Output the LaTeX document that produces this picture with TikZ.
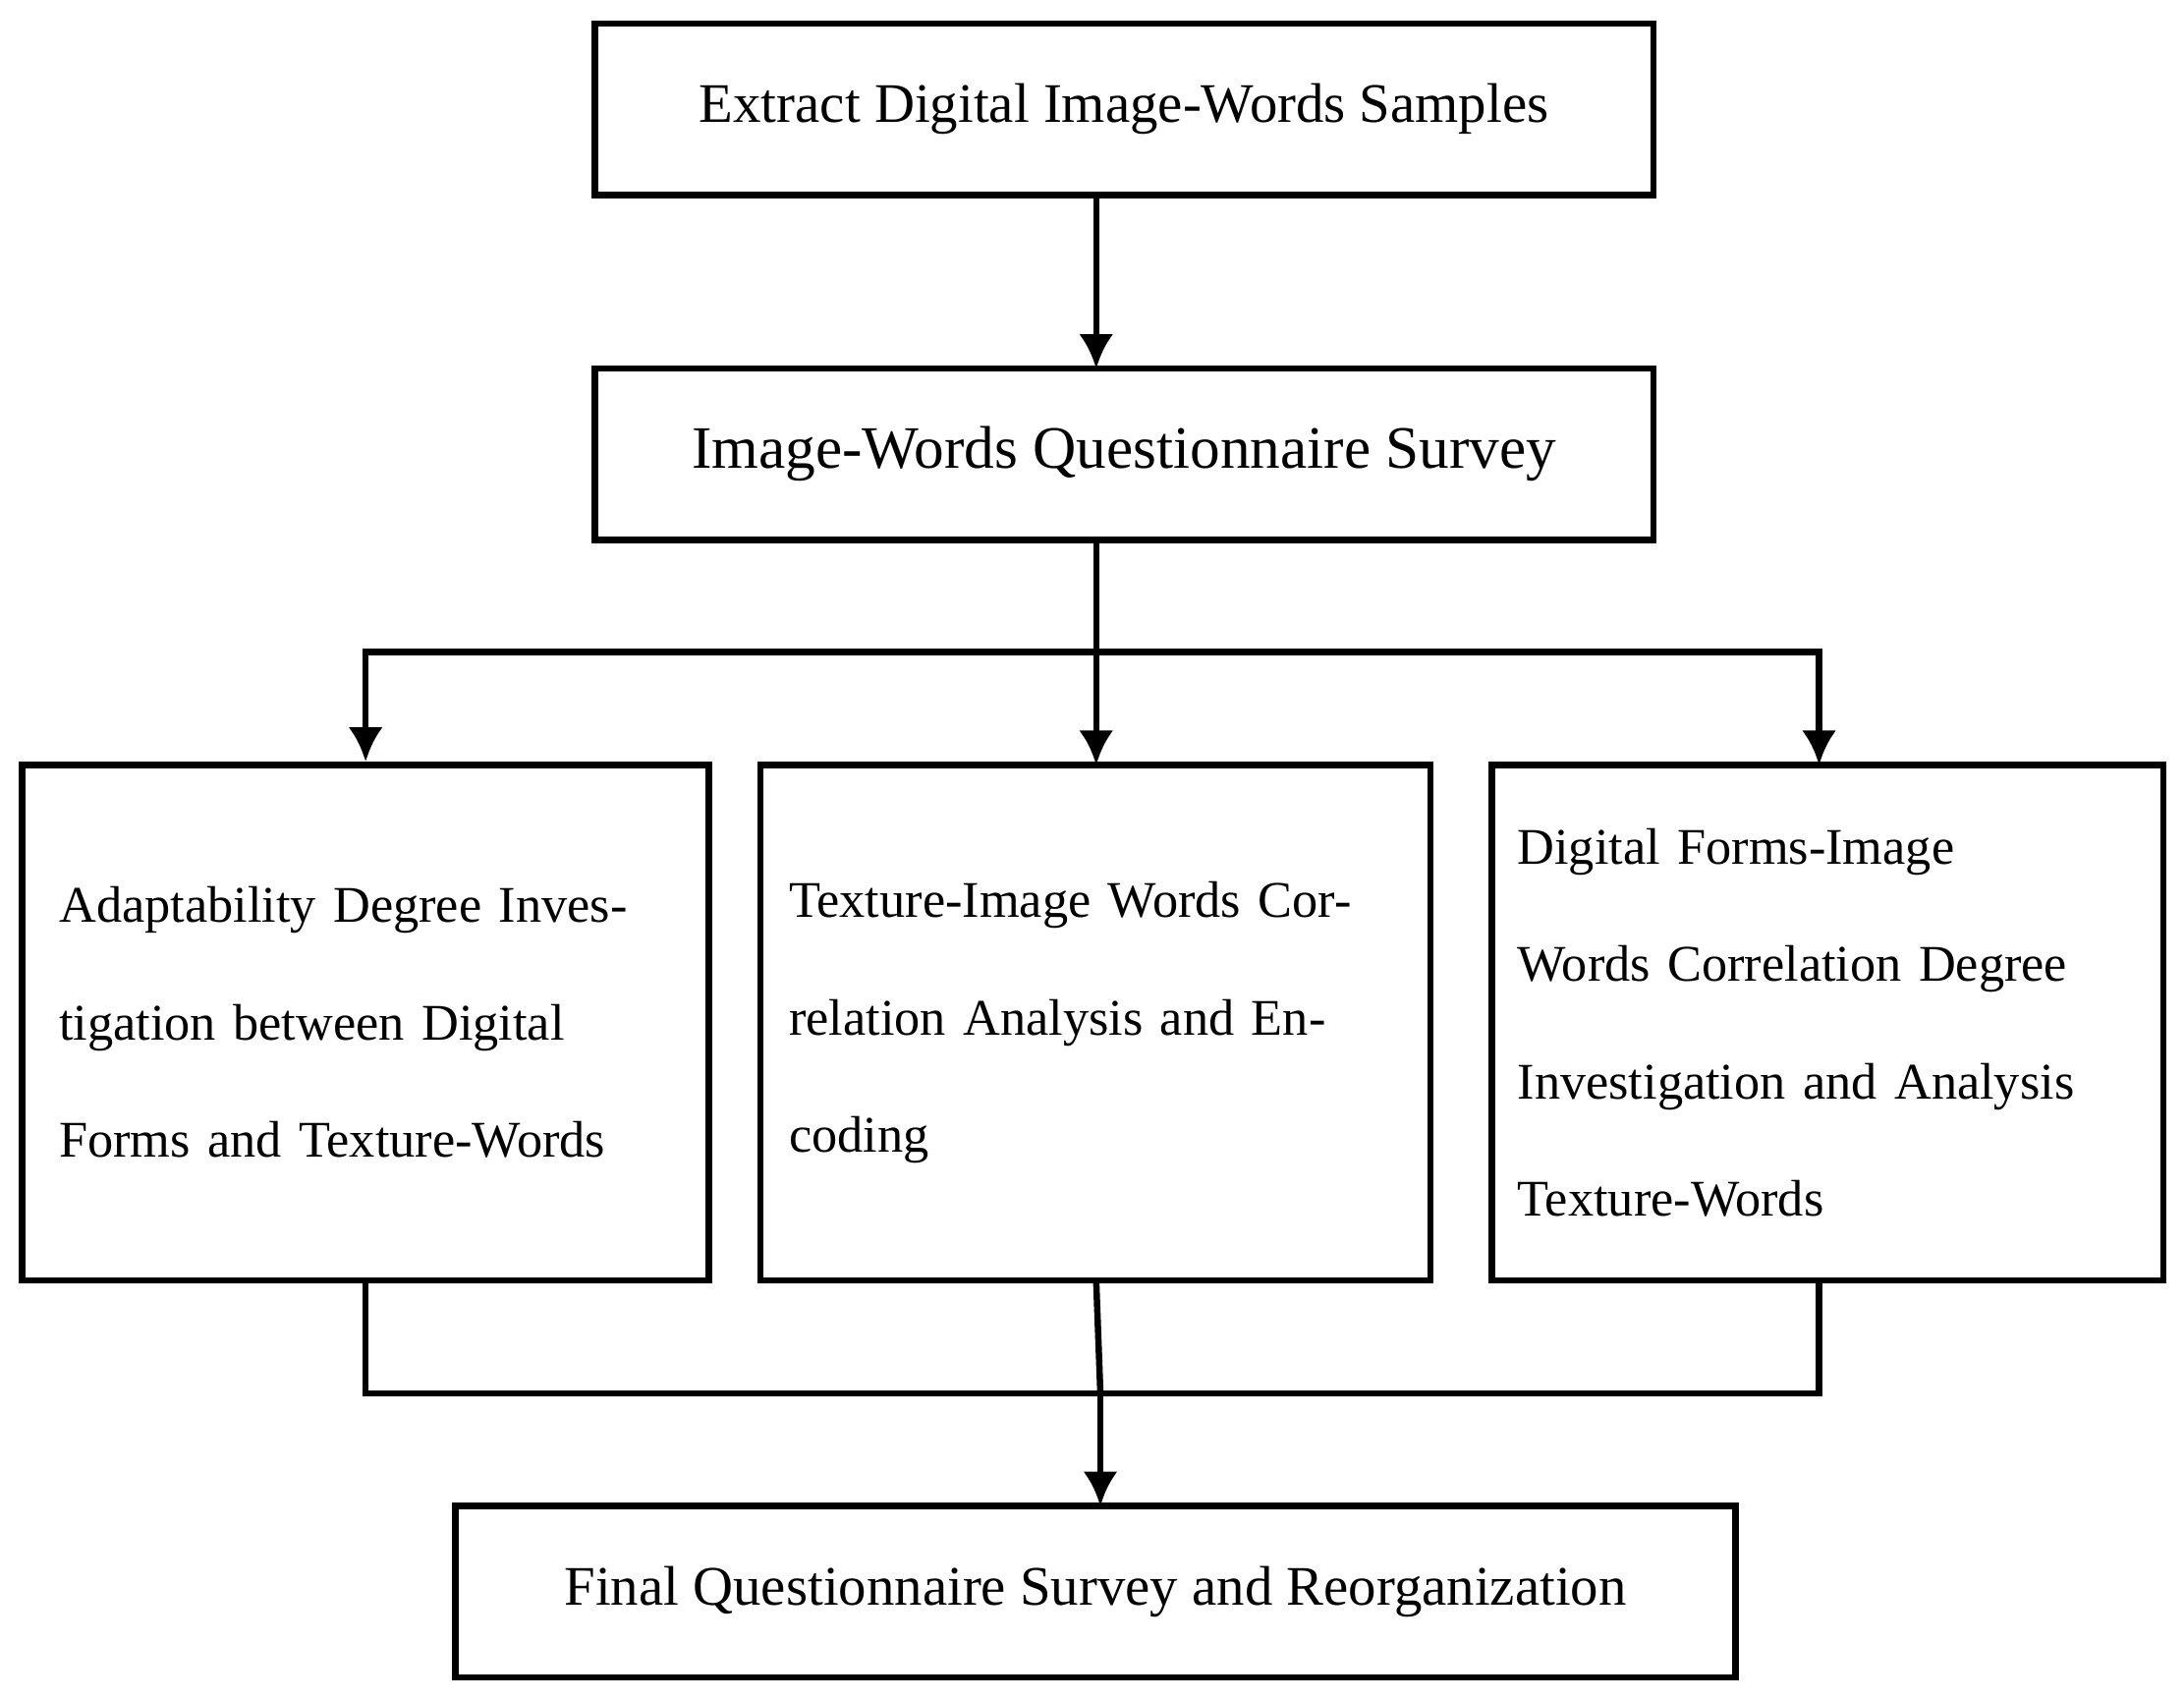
\documentclass[tikz,border=0pt]{standalone}
\usepackage{fontspec}
\setmainfont{Liberation Serif}
\usetikzlibrary{arrows.meta}
\tikzset{
  box/.style={draw,line width=1.3pt,minimum height=1.23cm},
  tallbox/.style={draw,line width=1.3pt,minimum height=3.7cm,align=left,font=\fontsize{10.5}{24}\selectfont},
  flow/.style={line width=1.3pt,-{Latex[length=7pt,width=7pt]}},
  link/.style={line width=1.3pt}
}
\begin{document}
\begin{tikzpicture}
	\useasboundingbox (0,0) rectangle (15.68,-12.2);
	%top boxes
	\node[box,minimum width=7.6cm,font=\fontsize{11.4}{14}\selectfont] (extract) at (8.07,-0.785) {Extract Digital Image-Words Samples};
	\node[box,minimum width=7.6cm,font=\fontsize{12.3}{15}\selectfont] (survey) at (8.07,-3.26) {Image-Words Questionnaire Survey};
	%middle boxes
	\node[tallbox,minimum width=4.93cm,text width=4.4cm] (adapt) at (2.625,-7.34) {Adaptability Degree Inves-\\tigation between Digital\\Forms and Texture-Words};
	\node[tallbox,minimum width=4.81cm,text width=4.4cm] (texture) at (7.865,-7.34) {Texture-Image Words Cor-\\relation Analysis and En-\\coding};
	\node[tallbox,minimum width=4.82cm,text width=4.45cm] (forms) at (13.12,-7.34) {Digital Forms-Image\\Words Correlation Degree\\Investigation and Analysis\\Texture-Words};
	%bottom box
	\node[box,minimum width=9.19cm,font=\fontsize{11.4}{14}\selectfont] (final) at (7.865,-11.425) {Final Questionnaire Survey and Reorganization};
	%branch points
	\coordinate (top1) at (7.87,-1.4);
	\coordinate (top2) at (7.87,-2.645);
	\coordinate (top3) at (7.87,-3.875);
	\coordinate (split) at (7.87,-4.68);
	\coordinate (mid) at (7.87,-5.49);
	\coordinate (right) at (13.06,-5.49);
	\coordinate (midb) at (7.87,-9.19);
	\coordinate (rightb) at (13.06,-9.19);
	\coordinate (merge) at (7.9,-10.0);
	\coordinate (bot) at (7.9,-10.81);
	%arrows
	\draw[flow] (top1) -- (top2);
	\draw[link] (top3) -- (split);
	\draw[flow] (split) -- (mid);
	\draw[flow] (split) -| (adapt.north);
	\draw[flow] (split) -| (right);
	\draw[link] (adapt.south) |- (merge);
	\draw[link] (rightb) |- (merge);
	\draw[link] (midb) -- (merge);
	\draw[flow] (merge) -- (bot);
\end{tikzpicture}
\end{document}
